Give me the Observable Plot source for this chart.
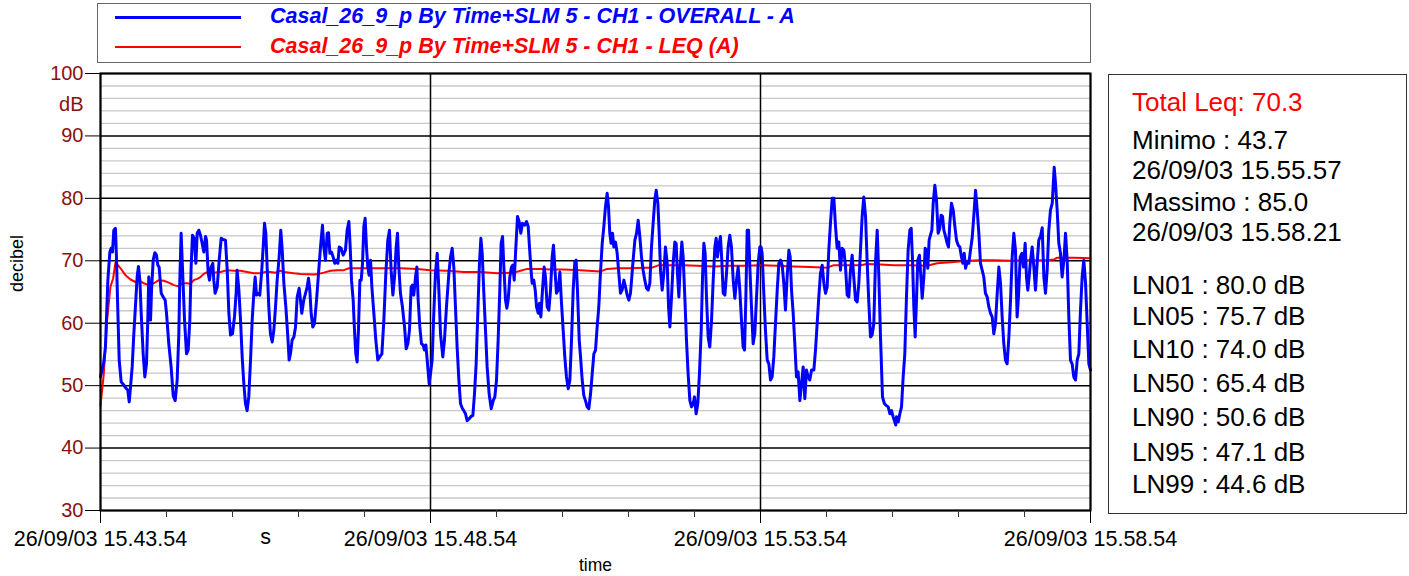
<!DOCTYPE html>
<html><head><meta charset="utf-8">
<script src="https://cdn.jsdelivr.net/npm/d3@7"></script>
<script src="https://cdn.jsdelivr.net/npm/@observablehq/plot@0.6"></script>
<style>
body{margin:0;background:#fff;font-family:"Liberation Sans",Arial,sans-serif;}
#wrap{position:relative;width:1409px;height:576px;overflow:hidden;background:#fff;}
#chart{position:absolute;left:0;top:0;}
#legend{position:absolute;left:97px;top:3px;width:994px;height:60px;border:1px solid #666;box-sizing:border-box;background:#fff;}
.lg{position:absolute;left:172px;font-weight:bold;font-style:italic;font-size:21.5px;line-height:21px;white-space:nowrap;}
.sw{position:absolute;left:17px;width:126px;}
#stats{position:absolute;left:1108px;top:74px;width:299px;height:440px;border:1px solid #333;box-sizing:border-box;background:#fff;}
.st{position:absolute;left:23px;font-size:26px;line-height:26px;white-space:nowrap;color:#000;}
</style></head>
<body><div id="wrap">
<div id="chart"></div>
<div id="legend"></div>
<div id="stats"></div>
</div>
<script>
// ---- data ----
const startTime = "2003-09-26T15:43:54Z";
const durationSec = 900;
const seriesNames = ["Casal_26_9_p By Time+SLM 5 - CH1 - OVERALL - A", "Casal_26_9_p By Time+SLM 5 - CH1 - LEQ (A)"];
const seriesColors = ["#0000ff", "#ff0000"];

// OVERALL - A (seconds after start, dB)
const overallSec = [0,3,4.5,6.7,8.5,9.7,10.9,12.1,13.6,14.5,15.8,17,18.8,21.2,23.6,24.8,26.1,27.3,28.8,30.3,32.1,33.3,34.5,35.8,37,38.8,40.3,41.8,43,43.9,44.8,45.5,46.4,47.9,49.4,50.9,52.1,53.3,55.2,57,58.8,60,62.1,64.2,66.1,67.9,69.7,71.2,72.1,73.3,74.5,76.4,78.2,79.7,81.2,82.4,83.6,85.2,86.7,87.9,89.4,90.9,92.4,93.9,95.5,96.4,97.9,99.1,100.6,102.1,103,104.2,106.1,107.9,109.7,111.5,113.6,115.2,116.7,118.2,120,121.8,123.3,124.2,125.8,127.3,128.8,130.3,131.8,133.3,134.8,136.4,137.9,139.4,140.6,141.8,143,144.8,146.4,147.9,149.1,150.3,151.5,153,154.5,156.1,157.6,159.1,160.6,162.4,163.9,165.2,166.7,168.5,170.3,171.5,172.7,174.2,175.8,177.3,178.8,180.6,181.8,183,184.8,186.4,187.9,189.1,190.3,191.5,193,194.5,196.4,198.2,200,201.8,203,204.5,206.1,207.3,208.5,210,211.5,213,214.5,215.8,217,218.8,220.6,222.7,224.2,225.8,227,228.2,229.7,230.9,232.1,233.3,234.5,235.8,237,238.2,239.4,240.6,241.8,243,244.2,245.5,246.7,248.5,250.3,252.1,253.9,255.8,257.6,259.4,261.2,262.7,264.2,265.8,267.3,268.8,270,271.2,272.7,274.5,276.4,277.9,279.4,280.9,282.4,283.6,284.8,286.4,287.6,288.8,290.3,291.8,293.3,294.5,295.8,297,298.8,
300,301.5,303,304.5,306.1,307.6,309.1,311.2,312.7,314.5,316.7,318.2,319.7,321.2,322.7,324.2,325.8,327.3,329.1,330.3,331.8,333.3,335.2,337,338.5,340,341.5,343,344.5,345.8,347,348.5,350,351.5,353.3,355.2,357,358.5,360,361.5,363,364.2,365.5,366.7,368.2,369.4,370.6,372.1,373.6,374.8,376.1,377.6,379.1,380.6,382.1,383.6,385.5,387.3,388.8,390,391.2,392.4,393.9,395.2,396.4,397.9,399.1,400.3,401.8,403.3,404.5,406.1,407.6,409.1,410.6,411.8,413,414.5,416.1,417.6,419.1,420.6,422.1,423.6,425.2,426.7,428.2,429.7,431.2,432.4,433.6,435.2,436.4,437.9,439.4,440.9,442.4,443.9,445.5,447,448.5,450,451.5,453,454.5,456.1,457.6,459.1,460.6,461.8,463,464.2,465.5,466.7,468.2,469.7,471.2,472.7,474.2,475.8,477.3,478.8,480.3,481.8,483,484.2,485.8,487.3,488.8,490.3,491.8,493.3,494.8,496.4,497.9,499.4,500.9,502.4,503.9,505.2,506.7,507.9,509.1,510.6,512.1,513.6,515.2,516.4,517.6,519.1,520.6,522.1,523.3,524.5,525.8,527,528.5,529.7,531.2,532.7,534.2,535.8,537.3,538.8,540,541.5,543,544.5,546.1,547.3,548.5,549.7,550.9,552.4,553.9,555.5,557,558.5,559.7,560.9,562.4,563.6,564.8,566.1,567.6,569.1,570.6,572.1,573.6,575.2,576.7,578.2,579.7,581.2,582.7,584.2,585.5,586.7,587.9,589.1,590.3,591.8,593.3,594.8,596.4,597.9,599.4,
600.5,601.5,603,604.5,606.1,607.6,609.1,610.6,612.1,613.6,615.2,616.7,618.2,619.7,621.2,622.7,624.2,625.8,627,628.2,629.7,631.2,632.7,634.2,635.8,637.3,638.8,640.3,641.8,643.3,644.8,646.4,648.5,650,651.5,653,654.5,656.1,657.6,659.1,660.6,662.1,663.6,665.2,666.7,668.2,669.7,671.2,672.7,674.2,675.8,677.3,678.8,680.3,681.8,683.3,684.8,686.4,687.9,689.4,690.9,692.4,693.9,695.5,697,698.5,700,701.5,703,704.5,706.1,707.6,709.1,710.9,712.7,714.5,716.1,717.6,719.1,720.6,723,723.6,725.2,726.7,728.2,729.7,731.2,732.7,734.2,735.8,737,738.2,739.4,740.6,741.8,743,744.5,745.8,747,748.5,749.7,750.9,752.1,753.3,754.5,755.8,757,758.5,760,761.5,763,764.2,765.5,766.7,768.2,769.7,770.9,772.1,773.6,775.2,776.7,778.2,779.7,781.2,782.7,783.9,785.2,786.4,787.9,789.4,790.9,792.4,793.9,795.5,797,798.5,800,801.5,803,804.5,806.1,807.6,809.1,810.6,812.1,813.6,815.2,816.7,818.2,819.7,821.2,822.7,824.2,825.8,827.3,828.8,830.3,831.8,833.3,834.5,836.1,837.6,839.1,840.6,841.8,843,844.2,845.5,847,848.5,850,851.5,853,854.5,856.1,857.6,859.1,860.6,862.1,863.6,865.2,867,868.2,869.7,871.2,872.7,874.2,875.8,877.3,878.8,880.3,881.8,883.3,884.8,886.4,887.9,889.4,890.9,892.4,893.9,895.5,897,898.5,900];
const overallDb = [51.4,53.8,56.2,66.9,71.4,72.0,71.4,74.9,75.2,70.6,61.6,54.1,50.6,50.1,49.5,49.3,47.4,49.8,53.0,58.3,63.7,67.4,69.1,66.9,61.6,55.1,51.4,53.5,60.5,67.4,64.2,60.5,65.3,70.1,71.3,70.9,69.3,69.0,64.8,64.2,63.7,61.6,56.7,53.0,48.4,47.6,50.9,58.3,66.9,74.4,69.0,60.5,55.1,55.7,60.5,69.0,74.1,73.6,69.6,74.4,74.9,74.1,72.8,71.4,73.9,73.3,68.0,66.9,69.0,69.6,66.9,64.8,65.8,70.1,73.6,73.4,73.3,68.5,61.6,58.1,58.3,61.0,64.8,68.5,65.3,60.5,54.6,50.3,47.1,46.0,48.2,54.1,60.5,64.8,67.4,64.5,64.8,64.5,68.0,72.2,76.0,74.4,69.0,62.6,58.3,57.0,58.9,62.6,66.9,70.6,74.9,71.7,66.4,62.6,57.8,54.1,55.1,57.3,57.8,59.4,64.2,65.6,63.7,61.6,63.7,64.8,65.8,67.2,65.3,61.6,59.4,59.9,63.7,68.0,72.2,75.7,72.2,70.1,74.4,74.5,71.2,71.4,70.6,69.6,70.1,69.6,72.2,72.0,70.9,71.7,74.9,76.3,72.2,66.9,63.7,58.9,55.1,53.8,58.9,66.9,66.9,69.6,75.5,76.8,72.2,69.0,67.7,70.1,65.8,61.6,57.3,54.1,54.6,55.1,60.5,68.0,73.3,74.9,68.5,64.5,67.4,72.2,74.4,69.0,64.8,62.6,59.4,55.9,56.7,58.9,65.8,66.1,64.5,67.4,69.0,63.7,59.4,56.7,56.5,55.7,56.5,54.1,50.3,
51.9,54.1,61.6,68.0,71.2,65.3,58.3,54.6,57.3,62.6,68.0,70.6,72.0,69.0,62.6,56.2,50.9,47.1,46.3,46.0,45.5,44.4,44.7,45.1,45.2,48.7,53.5,61.6,69.6,73.6,71.2,64.8,58.9,53.0,48.7,46.3,47.6,48.2,50.9,57.3,65.3,72.8,73.9,69.0,63.7,62.4,63.7,67.4,69.0,69.3,66.9,72.2,77.1,76.3,74.4,76.0,75.7,76.3,75.5,72.2,69.0,66.4,66.9,65.3,62.6,61.6,63.2,61.0,65.3,69.0,67.4,62.6,62.1,65.3,70.6,72.5,69.0,64.8,65.3,68.2,63.2,58.9,54.6,51.4,49.5,50.9,57.3,65.3,69.8,70.1,65.3,57.3,54.6,50.9,48.4,47.6,46.6,46.3,48.7,51.9,55.1,55.7,59.4,62.6,68.0,72.8,75.5,78.7,80.8,78.7,74.4,72.8,74.4,72.2,73.0,71.2,68.0,64.8,65.3,66.9,65.8,64.5,63.7,64.8,67.4,70.1,73.3,74.4,76.5,73.9,70.6,68.5,66.9,65.6,65.3,66.4,72.2,76.0,79.7,81.3,79.2,74.4,68.5,65.3,68.0,72.2,69.6,62.6,59.4,64.2,69.6,73.0,72.8,68.0,64.2,69.0,73.0,70.6,64.2,57.3,51.9,47.6,46.6,47.1,48.2,45.5,47.1,51.9,58.9,67.4,72.8,71.2,64.2,57.8,56.2,60.5,66.9,72.2,73.6,70.6,72.8,73.9,70.1,64.8,64.5,68.0,72.2,74.1,72.2,66.9,64.0,66.9,69.0,65.3,60.5,56.2,55.7,64.2,74.9,74.9,69.0,62.6,56.7,58.3,64.2,69.6,72.2,
72.2,71.2,64.8,58.9,54.1,53.5,50.9,51.4,54.6,59.9,65.3,69.6,70.1,69.3,66.4,62.1,67.4,71.7,70.6,65.3,61.6,56.7,51.4,52.2,47.6,50.3,53.0,47.9,52.5,51.4,50.9,52.5,52.5,55.7,59.9,64.2,68.0,69.3,66.4,64.8,65.8,71.7,76.0,80.0,80.0,75.5,72.0,73.0,68.5,72.0,71.7,69.0,64.5,64.2,68.5,70.9,67.4,63.7,63.4,66.4,71.7,77.1,80.2,77.1,69.6,63.2,57.8,58.1,59.9,69.6,74.9,67.4,57.8,48.2,47.1,46.8,46.6,45.5,46.0,45.0,43.7,45.0,44.2,45.5,46.6,51.4,55.1,64.2,71.7,74.9,75.2,70.1,62.6,57.8,63.7,70.1,70.9,67.4,64.0,67.4,72.0,71.7,68.8,73.3,74.1,74.9,79.2,82.1,79.7,74.4,75.2,77.3,77.1,74.9,73.9,72.8,72.2,76.0,79.2,78.1,75.5,73.3,72.5,72.2,70.6,69.6,71.2,68.8,69.8,69.6,71.7,73.6,77.1,81.3,78.1,74.4,69.6,68.5,67.4,64.8,64.2,62.6,61.6,61.0,58.3,59.9,64.8,69.0,66.4,61.0,56.7,54.1,53.5,57.8,63.7,70.6,74.4,71.7,61.0,64.2,70.6,71.2,69.0,72.8,67.4,65.3,67.4,70.1,72.2,69.0,65.3,69.6,73.3,73.9,75.3,67.4,64.8,68.5,74.9,78.1,79.2,85.0,82.4,78.1,72.8,71.2,67.4,70.1,74.4,70.1,61.0,54.1,53.5,51.4,50.9,54.1,55.1,62.1,67.4,70.1,66.4,59.9,53.5,52.5];

// LEQ (A) running value (seconds after start, dB)
const leqSec = [0,3,6,9,11.5,13.6,15.8,18.2,22.7,27.3,31.8,34.8,39.4,43.9,48.5,53,57.6,62.1,66.7,71.2,74.2,78.8,81.8,84.8,87.9,90.9,93.9,97,103,109.1,115.2,121.2,127.3,133.3,139.4,145.5,150,154.5,159.1,163.6,166.7,175.8,181.8,193.9,198.5,203,209.1,215.2,221.2,225.8,230.3,242.4,257.6,272.7,287.9,300,315.2,330.3,345.5,360.6,375.8,381.8,387.9,400,409.1,421.2,436.4,454.5,460.6,469.7,481.8,493.9,501.5,507.6,518.2,530.3,542.4,557.6,572.7,587.9,600,615.2,630.3,645.5,660.6,666.7,678.8,690.9,697,709.1,721.2,736.4,751.5,760.6,775.8,787.9,800,812.1,827.3,842.4,860.6,866.7,869.7,884.8,900];
const leqDb = [46.8,51.9,60.5,65.8,67.2,69.7,69.3,68.8,67.7,67.0,66.6,66.8,66.4,66.1,66.4,66.9,66.8,66.5,66.1,65.9,66.4,66.4,66.3,66.9,67.1,67.4,67.9,68.2,68.1,68.2,68.5,68.4,68.4,68.2,68.0,68.0,68.2,68.2,68.1,68.4,68.2,68.0,67.9,67.8,67.9,68.1,68.4,68.5,68.5,68.8,68.8,68.8,68.8,68.8,68.7,68.5,68.4,68.2,68.2,68.0,68.1,68.4,68.7,68.7,68.6,68.6,68.5,68.3,68.7,68.8,68.8,68.9,68.9,69.3,69.3,69.3,69.2,69.1,69.2,69.2,69.3,69.2,69.1,69.0,68.9,69.3,69.3,69.3,69.5,69.4,69.3,69.3,69.2,69.6,69.8,70.0,70.1,70.1,70.0,70.1,70.1,70.2,70.5,70.5,70.4];

const yMajor = [30,40,50,60,70,80,90,100];
const yMinor = [32,34,36,38,42,44,46,48,52,54,56,58,62,64,66,68,72,74,76,78,82,84,86,88,92,94,96,98];
const xMajorSec = [0,300,600,900];
const xMinorSec = [60,120,180,240,360,420,480,540,660,720,780,840];
const unitLabelSec = 150;

const statsTitle = "Total Leq: 70.3";
const statsLines = ["Minimo : 43.7","26/09/03 15.55.57","Massimo : 85.0","26/09/03 15.58.21"];
const lnLines = ["LN01 : 80.0 dB","LN05 : 75.7 dB","LN10 : 74.0 dB","LN50 : 65.4 dB","LN90 : 50.6 dB","LN95 : 47.1 dB","LN99 : 44.6 dB"];

// ---- build ----
const t0 = new Date(startTime).getTime();
const T = s => new Date(t0 + s * 1000);
const overall = overallSec.map((s, i) => ({time: T(s), db: overallDb[i]}));
const leq = leqSec.map((s, i) => ({time: T(s), db: leqDb[i]}));
const fmt = d3.utcFormat("%d/%m/%y %H.%M.%S");
const font = "Liberation Sans, Arial, sans-serif";
const axisRed = "#8b1010";

const chart = Plot.plot({
  width: 1409, height: 576,
  marginLeft: 100, marginRight: 319, marginTop: 73, marginBottom: 66,
  style: {fontFamily: font, background: "white", color: "black", overflow: "visible"},
  x: {type: "utc", domain: [T(0), T(durationSec)], label: null},
  y: {domain: [30, 100], label: null},
  marks: [
    Plot.ruleY(yMinor, {stroke: "#c8c8c8", strokeWidth: 1.3}),
    Plot.ruleY(yMajor, {stroke: "#000", strokeWidth: 1.5}),
    Plot.ruleX(xMajorSec.map(T), {stroke: "#000", strokeWidth: 1.5}),
    Plot.line(leq, {x: "time", y: "db", stroke: seriesColors[1], strokeWidth: 2}),
    Plot.line(overall, {x: "time", y: "db", stroke: seriesColors[0], strokeWidth: 3, strokeLinejoin: "round"}),
    Plot.frame({stroke: "#000", strokeWidth: 2}),
    Plot.axisY(yMajor, {tickSize: 15, tickFormat: () => "", color: "#000", label: null}),
    Plot.axisY(yMajor, {tickSize: 0, tickPadding: 17, fontSize: 20, color: axisRed, label: null}),
    Plot.axisY([95], {tickSize: 0, tickPadding: 17, fontSize: 20, tickFormat: () => "dB", color: axisRed, label: null}),
    Plot.axisX(xMajorSec.map(T), {tickSize: 13, tickPadding: 7, fontSize: 21.5, tickFormat: fmt, color: "#000", label: null}),
    Plot.axisX(xMinorSec.map(T), {tickSize: 7, tickFormat: () => "", color: "#333", label: null}),
    Plot.text(["s"], {x: [T(unitLabelSec)], frameAnchor: "bottom", lineAnchor: "middle", dy: 27, fontSize: 21.5, fill: "#000"}),
    Plot.text(["time"], {frameAnchor: "bottom", lineAnchor: "middle", dy: 55, fontSize: 17.5, fill: "#000"}),
    Plot.text(["decibel"], {frameAnchor: "left", dx: -83, rotate: -90, fontSize: 18, fill: "#000"})
  ]
});
document.getElementById("chart").appendChild(chart);

// legend
const legend = document.getElementById("legend");
seriesNames.forEach((name, i) => {
  const sw = document.createElement("div");
  sw.className = "sw";
  sw.style.top = (i === 0 ? 12 : 42) + "px";
  sw.style.height = (i === 0 ? 3 : 2) + "px";
  sw.style.background = seriesColors[i];
  legend.appendChild(sw);
  const tx = document.createElement("div");
  tx.className = "lg";
  tx.style.top = (i === 0 ? 2 : 32) + "px";
  tx.style.color = seriesColors[i];
  tx.textContent = name;
  legend.appendChild(tx);
});

// stats box
const stats = document.getElementById("stats");
const addLine = (txt, top, color) => {
  const d = document.createElement("div");
  d.className = "st";
  d.style.top = top + "px";
  if (color) d.style.color = color;
  d.textContent = txt;
  stats.appendChild(d);
};
addLine(statsTitle, 14, "#ff0000");
const statTops = [52, 82, 114, 144];
statsLines.forEach((s, i) => addLine(s, statTops[i]));
const lnTops = [197, 228, 261, 295, 329, 364, 396];
lnLines.forEach((s, i) => addLine(s, lnTops[i]));
</script>
</body></html>
